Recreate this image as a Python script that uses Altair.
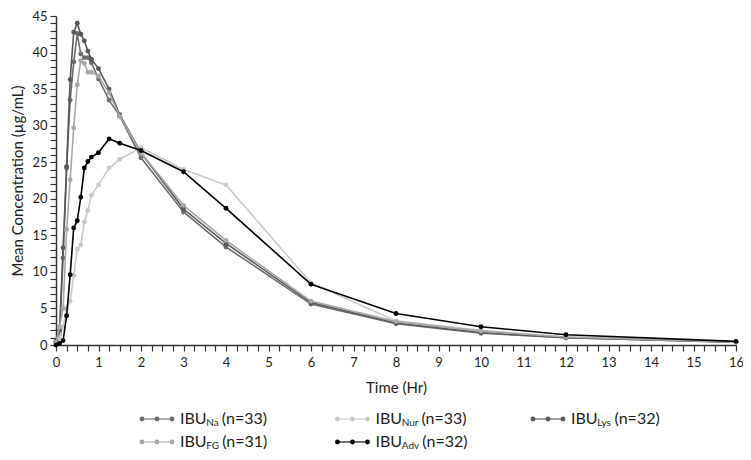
import altair as alt
import pandas as pd

times = [0, 0.083, 0.167, 0.25, 0.333, 0.417, 0.5, 0.583, 0.667, 0.75, 0.833, 1, 1.25, 1.5, 2, 3, 4, 6, 8, 10, 12, 16]
ibu_na  = [0.3, 1.5, 11.9, 24.2, 33.5, 38.7, 42.6, 39.8, 39.3, 39.3, 38.6, 36.4, 33.5, 31.3, 25.6, 18.2, 13.4, 5.6, 2.9, 1.6, 1.0, 0.4]
ibu_nur = [0.3, 1.0, 2.5, 5.0, 6.0, 9.5, 13.1, 13.7, 16.8, 18.4, 20.5, 21.9, 24.2, 25.4, 27.0, 24.0, 21.9, 8.5, 3.3, 2.0, 1.1, 0.4]
ibu_lys = [0.5, 2.0, 13.3, 24.4, 36.3, 42.8, 44.0, 42.5, 41.6, 40.2, 39.1, 37.8, 35.0, 31.5, 26.3, 18.6, 13.9, 5.8, 3.0, 1.7, 1.0, 0.4]
ibu_fg  = [0.3, 2.5, 5.0, 15.8, 22.6, 29.7, 35.6, 38.9, 38.5, 37.3, 37.3, 36.8, 34.5, 31.3, 26.3, 19.1, 14.3, 6.0, 3.2, 1.9, 1.1, 0.4]
ibu_adv = [0.0, 0.2, 0.6, 4.0, 9.6, 16.0, 17.0, 20.2, 24.2, 25.1, 25.7, 26.3, 28.2, 27.6, 26.6, 23.7, 18.7, 8.3, 4.3, 2.5, 1.4, 0.5]

series_subs = ["Na", "Nur", "Lys", "FG", "Adv"]
series_n = ["(n=33)", "(n=33)", "(n=32)", "(n=31)", "(n=32)"]
series_colors = ["#6d6d6d", "#c9c9c9", "#585858", "#a7a7a7", "#000000"]
series_vals = [ibu_na, ibu_nur, ibu_lys, ibu_fg, ibu_adv]
legend_col = [0, 1, 2, 0, 1]
legend_row = [0, 0, 0, 1, 1]

FONT = "Lato"
TXT = "#231f20"

rows = []
for sub, vals in zip(series_subs, series_vals):
    for t, v in zip(times, vals):
        rows.append({"series": sub, "time": t, "conc": v})
df = pd.DataFrame(rows)

x_ticks = [i * 0.25 for i in range(65)]
y_ticks = list(range(46))

xscale = alt.Scale(domain=[0, 16], nice=False, zero=False)
yscale = alt.Scale(domain=[0, 45], nice=False)

xaxis = alt.Axis(values=x_ticks, labelExpr="datum.value % 1 == 0 ? format(datum.value, 'd') : ''",
                 labelOverlap=False, labelFlush=False, grid=False, title="Time (Hr)",
                 tickSize=6, labelPadding=5, titlePadding=11)
yaxis = alt.Axis(values=y_ticks, labelExpr="datum.value % 5 == 0 ? format(datum.value, 'd') : ''",
                 labelOverlap=False, labelFlush=False, grid=False, title="Mean Concentration (µg/mL)",
                 tickSize=6, labelPadding=3, titlePadding=6)

main_layers = []
for i, (sub, color) in enumerate(zip(series_subs, series_colors)):
    layer = alt.Chart(df).transform_filter(alt.datum.series == sub).mark_line(
        color=color, strokeWidth=1.6,
        point=alt.OverlayMarkDef(filled=True, color=color, size=24, opacity=1)
    ).encode(
        x=alt.X("time:Q", scale=xscale, axis=xaxis),
        y=alt.Y("conc:Q", scale=yscale, axis=yaxis),
    )
    main_layers.append(layer)
main = alt.layer(*main_layers)

leg = pd.DataFrame({"sub": series_subs, "n": series_n, "col": legend_col, "row": legend_row,
                    "color": series_colors, "base": ["IBU"] * 5})
lx = alt.X("col:Q", scale=alt.Scale(domain=[0, 2], range=[86, 477]), axis=None)
ly = alt.Y("row:Q", scale=alt.Scale(domain=[0, 1], range=[403, 426]), axis=None)
lc = alt.Color("color:N", scale=None)

cw = {"N": 0.74, "a": 0.52, "u": 0.56, "r": 0.37, "L": 0.5, "y": 0.51, "s": 0.42,
      "F": 0.56, "G": 0.73, "A": 0.68, "d": 0.57, "v": 0.51}
BASE_FS = 16
SUB_FS = 10
ibu_w = (0.29 + 0.64 + 0.71) * BASE_FS

legend_layers = []
legend_layers.append(alt.Chart(leg).mark_tick(orient="horizontal", size=30, thickness=1.6, xOffset=15)
                     .encode(x=lx, y=ly, color=lc))
for off in [0, 15, 30]:
    legend_layers.append(alt.Chart(leg).mark_circle(size=24, opacity=1, xOffset=off)
                         .encode(x=lx, y=ly, color=lc))
legend_layers.append(alt.Chart(leg).mark_text(align="left", baseline="middle", dx=38, font=FONT,
                                              fontSize=BASE_FS, color=TXT)
                     .encode(x=lx, y=ly, text="base:N"))
legend_layers.append(alt.Chart(leg).mark_text(align="left", baseline="middle", dx=38 + ibu_w, dy=4,
                                              font=FONT, fontSize=SUB_FS, color=TXT)
                     .encode(x=lx, y=ly, text="sub:N"))
for sub in series_subs:
    sw = sum(cw.get(c, 0.55) for c in sub) * SUB_FS
    legend_layers.append(alt.Chart(leg).transform_filter(alt.datum.sub == sub)
                         .mark_text(align="left", baseline="middle", dx=38 + ibu_w + sw + 3,
                                    font=FONT, fontSize=BASE_FS, color=TXT)
                         .encode(x=lx, y=ly, text="n:N"))
legend = alt.layer(*legend_layers)

chart = alt.layer(main, legend).resolve_scale(x="independent", y="independent").properties(
    width=680, height=329,
    autosize=alt.AutoSizeParams(type="none"),
    padding={"left": 48, "top": 8, "right": 7, "bottom": 107},
).configure_axis(
    labelFont=FONT, titleFont=FONT, labelFontSize=13, titleFontSize=15,
    labelColor=TXT, titleColor=TXT, titleFontWeight="normal",
    domainColor="#333333", tickColor="#333333", domainWidth=1.5, tickWidth=1.2,
).configure_view(stroke=None)

chart.save("out.html", embed_options={"renderer": "svg", "actions": False})
